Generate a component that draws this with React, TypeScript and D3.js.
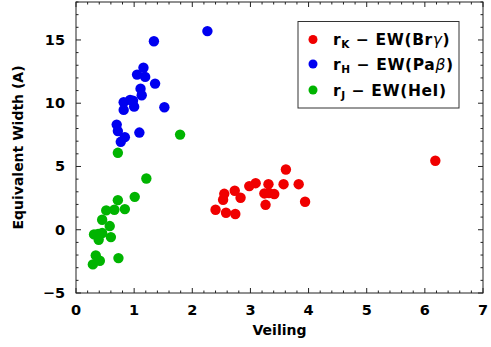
import React from "react";
import * as d3 from "d3";

const redX = [6.18, 3.61, 2.98, 3.09, 3.31, 3.57, 3.83, 2.73, 2.55, 2.53, 2.83, 3.24, 3.32, 3.41, 3.26, 3.94, 2.40, 2.58, 2.74];
const redY = [5.45, 4.76, 3.45, 3.68, 3.6, 3.6, 3.6, 3.08, 2.84, 2.37, 2.53, 2.87, 2.9, 2.82, 1.97, 2.21, 1.58, 1.34, 1.24];
const blueX = [2.26, 1.34, 1.16, 1.05, 1.19, 1.36, 1.11, 1.13, 0.82, 0.93, 0.98, 1.0, 0.82, 1.52, 0.70, 0.72, 1.09, 0.84, 0.77];
const blueY = [15.7, 14.9, 12.8, 12.26, 12.08, 11.55, 11.15, 10.63, 10.08, 10.26, 10.2, 9.73, 9.47, 9.68, 8.31, 7.8, 7.68, 7.32, 6.95];
const greenX = [1.79, 0.72, 1.21, 1.01, 0.72, 0.52, 0.66, 0.84, 0.45, 0.58, 0.31, 0.38, 0.45, 0.39, 0.60, 0.34, 0.41, 0.29, 0.73];
const greenY = [7.52, 6.08, 4.05, 2.6, 2.34, 1.53, 1.58, 1.63, 0.79, 0.29, -0.37, -0.34, -0.26, -0.79, -0.58, -2.03, -2.45, -2.74, -2.24];

const xTicks = [0, 1, 2, 3, 4, 5, 6, 7];
const yTicks = [-5, 0, 5, 10, 15];

const W = 491, H = 347;
const L = 76, R = 483, T = 2, B = 293;

export default function App() {
  const x = d3.scaleLinear().domain([0, 7]).range([L, R]);
  const y = d3.scaleLinear().domain([-5, 18]).range([B, T]);
  const xMinor = d3.range(0, 7.0001, 0.2).filter((v) => Math.abs(v - Math.round(v)) > 1e-6);
  const yMinor = d3.range(-5, 18.0001, 1).filter((v) => v % 5 !== 0);
  const font = "'DejaVu Sans', sans-serif";
  const series = [
    { xs: redX, ys: redY, color: "#f00000" },
    { xs: blueX, ys: blueY, color: "#0000f0" },
    { xs: greenX, ys: greenY, color: "#00b400" },
  ];
  return (
    <svg width={W} height={H} style={{ position: "absolute", left: 0, top: 0 }}>
      <rect width={W} height={H} fill="white" />
      {series.map((s, si) =>
        s.xs.map((v, i) => (
          <circle key={si + "-" + i} cx={x(v)} cy={y(s.ys[i])} r={5.2} fill={s.color} />
        ))
      )}
      <rect x={L} y={T} width={R - L} height={B - T} fill="none" stroke="#222" strokeWidth={1} />
      {xTicks.map((t) => (
        <g key={"xt" + t}>
          <line x1={x(t)} x2={x(t)} y1={B} y2={B - 5} stroke="#222" />
          <line x1={x(t)} x2={x(t)} y1={T} y2={T + 5} stroke="#222" />
          <text x={x(t)} y={B + 22} textAnchor="middle" fontFamily={font} fontWeight="bold" fontSize={14.5}>{t}</text>
        </g>
      ))}
      {xMinor.map((t, i) => (
        <g key={"xm" + i}>
          <line x1={x(t)} x2={x(t)} y1={B} y2={B - 2.5} stroke="#222" />
          <line x1={x(t)} x2={x(t)} y1={T} y2={T + 2.5} stroke="#222" />
        </g>
      ))}
      {yTicks.map((t) => (
        <g key={"yt" + t}>
          <line x1={L} x2={L + 5} y1={y(t)} y2={y(t)} stroke="#222" />
          <line x1={R} x2={R - 5} y1={y(t)} y2={y(t)} stroke="#222" />
          <text x={L - 11} y={y(t) + 5} textAnchor="end" fontFamily={font} fontWeight="bold" fontSize={14.5}>{t < 0 ? "\u2212" + Math.abs(t) : t}</text>
        </g>
      ))}
      {yMinor.map((t, i) => (
        <g key={"ym" + i}>
          <line x1={L} x2={L + 2.5} y1={y(t)} y2={y(t)} stroke="#222" />
          <line x1={R} x2={R - 2.5} y1={y(t)} y2={y(t)} stroke="#222" />
        </g>
      ))}
      <text x={(L + R) / 2} y={335} textAnchor="middle" fontFamily={font} fontWeight="bold" fontSize={14}>Veiling</text>
      <text transform={`translate(23,${(T + B) / 2}) rotate(-90)`} textAnchor="middle" fontFamily={font} fontWeight="bold" fontSize={14}>Equivalent Width (A)</text>
      <rect x={298} y={21.5} width={161} height={86.5} fill="white" stroke="#333" strokeWidth={1} />
      {[
        { c: "#f00000", sub: "K", main: "EW(Br", g: "\u03b3", end: ")", yy: 39.5 },
        { c: "#0000f0", sub: "H", main: "EW(Pa", g: "\u03b2", end: ")", yy: 64 },
        { c: "#00b400", sub: "J", main: "EW(HeI)", g: "", end: "", yy: 90 },
      ].map((e, i) => (
        <g key={"lg" + i}>
          <circle cx={313} cy={e.yy} r={4.5} fill={e.c} />
          <text x={333} y={e.yy + 5.5} fontFamily={font} fontWeight="bold" fontSize={15.5} letterSpacing={0.6}>
            r<tspan fontSize={10.5} dy={3}>{e.sub}</tspan>
            <tspan dy={-3}>{" \u2212 " + e.main}</tspan>
            {e.g ? <tspan fontStyle="italic" fontWeight="normal">{e.g}</tspan> : null}
            {e.end ? <tspan>{e.end}</tspan> : null}
          </text>
        </g>
      ))}
    </svg>
  );
}
